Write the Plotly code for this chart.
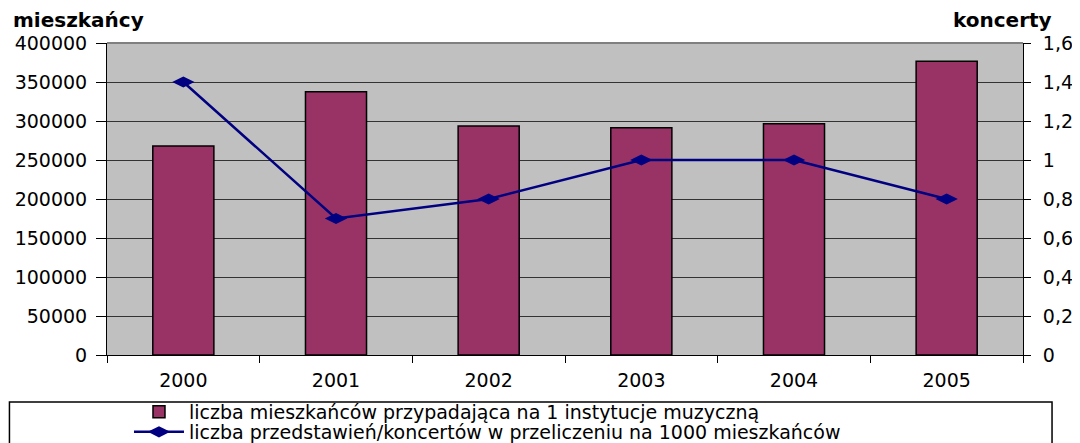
import plotly.graph_objects as go

years = ["2000", "2001", "2002", "2003", "2004", "2005"]
residents_per_institution = [268000, 337500, 293500, 291500, 296500, 376500]
concerts_per_1000 = [1.4, 0.7, 0.8, 1.0, 1.0, 0.8]

left_ticks = [0, 50000, 100000, 150000, 200000, 250000, 300000, 350000, 400000]
right_ticks = [0, 0.2, 0.4, 0.6, 0.8, 1.0, 1.2, 1.4, 1.6]
right_ticktext = ["0", "0,2", "0,4", "0,6", "0,8", "1", "1,2", "1,4", "1,6"]

bar_name = "liczba mieszkańców przypadająca na 1 instytucje muzyczną"
line_name = "liczba przedstawień/koncertów w przeliczeniu na 1000 mieszkańców"

FONT = "DejaVu Sans"

fig = go.Figure()
fig.add_trace(go.Bar(
    x=years, y=residents_per_institution, name=bar_name,
    width=0.4, marker=dict(color="#993366", line=dict(color="#000000", width=1.5)),
    yaxis="y", legend="legend",
))
fig.add_trace(go.Scatter(
    x=years, y=concerts_per_1000, name=line_name, mode="lines+markers",
    line=dict(color="#000080", width=2.5),
    marker=dict(symbol="diamond-wide", size=16, color="#000080"),
    yaxis="y2", legend="legend2",
))

legend_common = dict(
    x=0.024, xanchor="left", yanchor="middle",
    bgcolor="rgba(0,0,0,0)", borderwidth=0,
    font=dict(family=FONT, size=19), itemwidth=50,
)

# page body has an 8px margin, so the figure is 8px smaller and margins shifted
fig.update_layout(
    width=1072, height=435,
    margin=dict(l=99, r=57, t=35, b=88, autoexpand=False),
    paper_bgcolor="white", plot_bgcolor="#C0C0C0",
    font=dict(family=FONT, size=19, color="black"),
    showlegend=True,
    legend=dict(y=-0.1827, **legend_common),
    legend2=dict(y=-0.2468, **legend_common),
    xaxis=dict(
        type="category", tickson="boundaries", ticks="outside", ticklen=7,
        tickcolor="black", showgrid=False, showline=True, linecolor="black",
        linewidth=1, mirror=False, tickfont=dict(family=FONT, size=19),
        range=[-0.5, 5.5], automargin=False, ticklabelstandoff=8,
    ),
    yaxis=dict(
        range=[0, 400000], tickvals=left_ticks, ticks="outside", ticklen=10,
        tickcolor="black", showgrid=True, gridcolor="#333333", gridwidth=1,
        showline=True, linecolor="black", linewidth=1, zeroline=False,
        tickfont=dict(family=FONT, size=19), tickformat="d",
        automargin=False, ticklabelstandoff=5,
    ),
    yaxis2=dict(
        range=[0, 1.6], tickvals=right_ticks, ticktext=right_ticktext,
        overlaying="y", side="right", ticks="outside", ticklen=7,
        tickcolor="black", showgrid=False, showline=True, linecolor="black",
        linewidth=1, zeroline=False, tickfont=dict(family=FONT, size=19),
        automargin=False, ticklabelstandoff=8,
    ),
    shapes=[
        dict(type="line", xref="paper", yref="paper", x0=0, x1=1, y0=1, y1=1,
             line=dict(color="#808080", width=2)),
        dict(type="rect", xref="paper", yref="paper", x0=-0.1065, x1=1.0317,
             y0=-0.1506, y1=-0.35, line=dict(color="black", width=1.5),
             fillcolor="rgba(0,0,0,0)", layer="above"),
    ],
    annotations=[
        dict(text="<b>mieszkańcy</b>", xref="paper", yref="paper",
             x=-0.104, y=1.0, xanchor="left", yanchor="bottom", showarrow=False,
             yshift=10, borderpad=0, font=dict(family=FONT, size=20)),
        dict(text="<b>koncerty</b>", xref="paper", yref="paper",
             x=1.033, y=1.0, xanchor="right", yanchor="bottom", showarrow=False,
             yshift=10, borderpad=0, font=dict(family=FONT, size=20)),
    ],
)

fig.write_html("out.html")
